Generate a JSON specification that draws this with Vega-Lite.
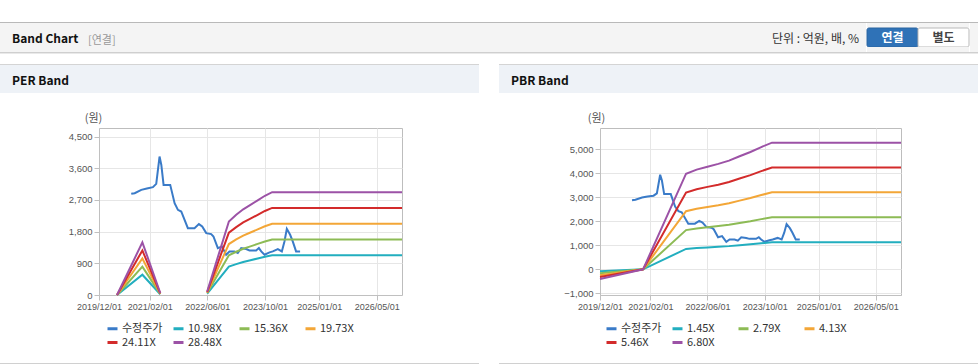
{
  "$schema": "https://vega.github.io/schema/vega-lite/v6.json",
  "padding": {"top": 22, "left": 0, "right": 0, "bottom": 0},
  "background": "#ffffff",
  "bounds": "full",
  "spacing": 0,
  "resolve": {"scale": {"color": "independent", "fill": "independent", "stroke": "independent"}, "legend": {"color": "independent"}},
  "config": {
    "view": {"stroke": null},
    "concat": {"spacing": 0},
    "axis": {"labelFont": "Liberation Sans", "labelFontSize": 9.5, "labelColor": "#555555", "domainColor": "#c0c0c0", "tickColor": "#c0c0c0", "gridColor": "#e6e6e6", "tickSize": 5, "labelOverlap": false, "labelFlush": false},
    "legend": {"labelFont": "Noto Sans CJK KR", "labelFontSize": 11, "labelColor": "#333333"}
  },
  "datasets": {
    "price": [
      {"date": "2020-08-29", "value": 2874}, {"date": "2020-09-27", "value": 2893}, {"date": "2020-11-22", "value": 2987},
      {"date": "2021-01-08", "value": 3025}, {"date": "2021-02-28", "value": 3063}, {"date": "2021-03-28", "value": 3158},
      {"date": "2021-04-25", "value": 3933}, {"date": "2021-05-10", "value": 3696}, {"date": "2021-05-29", "value": 3129},
      {"date": "2021-07-24", "value": 3129}, {"date": "2021-08-30", "value": 2609}, {"date": "2021-09-27", "value": 2420},
      {"date": "2021-10-25", "value": 2373}, {"date": "2021-12-20", "value": 1900}, {"date": "2022-02-14", "value": 1900},
      {"date": "2022-03-23", "value": 2014}, {"date": "2022-04-20", "value": 1948}, {"date": "2022-05-24", "value": 1758},
      {"date": "2022-07-05", "value": 1730}, {"date": "2022-07-24", "value": 1664}, {"date": "2022-08-30", "value": 1333},
      {"date": "2022-10-03", "value": 1380}, {"date": "2022-11-08", "value": 1144}, {"date": "2022-12-06", "value": 1238},
      {"date": "2023-01-17", "value": 1238}, {"date": "2023-02-14", "value": 1191}, {"date": "2023-03-15", "value": 1333},
      {"date": "2023-04-26", "value": 1305}, {"date": "2023-05-24", "value": 1267}, {"date": "2023-07-19", "value": 1267},
      {"date": "2023-08-11", "value": 1333}, {"date": "2023-08-31", "value": 1238}, {"date": "2023-09-28", "value": 1144},
      {"date": "2023-11-09", "value": 1210}, {"date": "2023-12-07", "value": 1238}, {"date": "2024-01-18", "value": 1305},
      {"date": "2024-02-21", "value": 1238}, {"date": "2024-03-14", "value": 1522}, {"date": "2024-04-03", "value": 1881},
      {"date": "2024-05-01", "value": 1711}, {"date": "2024-05-23", "value": 1522}, {"date": "2024-06-20", "value": 1238},
      {"date": "2024-07-24", "value": 1238}
    ],
    "perBand": [
      {"date": "2020-05-01", "series": "10.98X", "seg": 1, "value": 0}, {"date": "2020-05-01", "series": "15.36X", "seg": 1, "value": 0}, {"date": "2020-05-01", "series": "19.73X", "seg": 1, "value": 0}, {"date": "2020-05-01", "series": "24.11X", "seg": 1, "value": 0}, {"date": "2020-05-01", "series": "28.48X", "seg": 1, "value": 0},
      {"date": "2020-12-01", "series": "10.98X", "seg": 1, "value": 576}, {"date": "2020-12-01", "series": "15.36X", "seg": 1, "value": 806}, {"date": "2020-12-01", "series": "19.73X", "seg": 1, "value": 1036}, {"date": "2020-12-01", "series": "24.11X", "seg": 1, "value": 1266}, {"date": "2020-12-01", "series": "28.48X", "seg": 1, "value": 1495},
      {"date": "2021-05-01", "series": "10.98X", "seg": 1, "value": 22}, {"date": "2021-05-01", "series": "15.36X", "seg": 1, "value": 31}, {"date": "2021-05-01", "series": "19.73X", "seg": 1, "value": 39}, {"date": "2021-05-01", "series": "24.11X", "seg": 1, "value": 48}, {"date": "2021-05-01", "series": "28.48X", "seg": 1, "value": 57},
      {"date": "2022-06-01", "series": "10.98X", "seg": 2, "value": 38}, {"date": "2022-06-01", "series": "15.36X", "seg": 2, "value": 54}, {"date": "2022-06-01", "series": "19.73X", "seg": 2, "value": 69}, {"date": "2022-06-01", "series": "24.11X", "seg": 2, "value": 84}, {"date": "2022-06-01", "series": "28.48X", "seg": 2, "value": 100},
      {"date": "2022-12-01", "series": "10.98X", "seg": 2, "value": 806}, {"date": "2022-12-01", "series": "15.36X", "seg": 2, "value": 1127}, {"date": "2022-12-01", "series": "19.73X", "seg": 2, "value": 1448}, {"date": "2022-12-01", "series": "24.11X", "seg": 2, "value": 1770}, {"date": "2022-12-01", "series": "28.48X", "seg": 2, "value": 2090},
      {"date": "2023-02-01", "series": "10.98X", "seg": 2, "value": 878}, {"date": "2023-02-01", "series": "15.36X", "seg": 2, "value": 1229}, {"date": "2023-02-01", "series": "19.73X", "seg": 2, "value": 1578}, {"date": "2023-02-01", "series": "24.11X", "seg": 2, "value": 1929}, {"date": "2023-02-01", "series": "28.48X", "seg": 2, "value": 2278},
      {"date": "2023-04-01", "series": "10.98X", "seg": 2, "value": 939}, {"date": "2023-04-01", "series": "15.36X", "seg": 2, "value": 1313}, {"date": "2023-04-01", "series": "19.73X", "seg": 2, "value": 1687}, {"date": "2023-04-01", "series": "24.11X", "seg": 2, "value": 2061}, {"date": "2023-04-01", "series": "28.48X", "seg": 2, "value": 2435},
      {"date": "2023-06-01", "series": "10.98X", "seg": 2, "value": 988}, {"date": "2023-06-01", "series": "15.36X", "seg": 2, "value": 1382}, {"date": "2023-06-01", "series": "19.73X", "seg": 2, "value": 1776}, {"date": "2023-06-01", "series": "24.11X", "seg": 2, "value": 2170}, {"date": "2023-06-01", "series": "28.48X", "seg": 2, "value": 2563},
      {"date": "2023-08-01", "series": "10.98X", "seg": 2, "value": 1038}, {"date": "2023-08-01", "series": "15.36X", "seg": 2, "value": 1452}, {"date": "2023-08-01", "series": "19.73X", "seg": 2, "value": 1864}, {"date": "2023-08-01", "series": "24.11X", "seg": 2, "value": 2278}, {"date": "2023-08-01", "series": "28.48X", "seg": 2, "value": 2691},
      {"date": "2023-10-01", "series": "10.98X", "seg": 2, "value": 1087}, {"date": "2023-10-01", "series": "15.36X", "seg": 2, "value": 1521}, {"date": "2023-10-01", "series": "19.73X", "seg": 2, "value": 1953}, {"date": "2023-10-01", "series": "24.11X", "seg": 2, "value": 2387}, {"date": "2023-10-01", "series": "28.48X", "seg": 2, "value": 2820},
      {"date": "2023-12-01", "series": "10.98X", "seg": 2, "value": 1127}, {"date": "2023-12-01", "series": "15.36X", "seg": 2, "value": 1576}, {"date": "2023-12-01", "series": "19.73X", "seg": 2, "value": 2024}, {"date": "2023-12-01", "series": "24.11X", "seg": 2, "value": 2474}, {"date": "2023-12-01", "series": "28.48X", "seg": 2, "value": 2922},
      {"date": "2026-12-01", "series": "10.98X", "seg": 2, "value": 1127}, {"date": "2026-12-01", "series": "15.36X", "seg": 2, "value": 1576}, {"date": "2026-12-01", "series": "19.73X", "seg": 2, "value": 2024}, {"date": "2026-12-01", "series": "24.11X", "seg": 2, "value": 2474}, {"date": "2026-12-01", "series": "28.48X", "seg": 2, "value": 2922}
    ],
    "pbrBand": [
      {"date": "2019-12-01", "series": "1.45X", "value": -86}, {"date": "2019-12-01", "series": "2.79X", "value": -165}, {"date": "2019-12-01", "series": "4.13X", "value": -244}, {"date": "2019-12-01", "series": "5.46X", "value": -322}, {"date": "2019-12-01", "series": "6.80X", "value": -401},
      {"date": "2020-12-01", "series": "1.45X", "value": 0}, {"date": "2020-12-01", "series": "2.79X", "value": 0}, {"date": "2020-12-01", "series": "4.13X", "value": 0}, {"date": "2020-12-01", "series": "5.46X", "value": 0}, {"date": "2020-12-01", "series": "6.80X", "value": 0},
      {"date": "2021-12-01", "series": "1.45X", "value": 848}, {"date": "2021-12-01", "series": "2.79X", "value": 1632}, {"date": "2021-12-01", "series": "4.13X", "value": 2416}, {"date": "2021-12-01", "series": "5.46X", "value": 3194}, {"date": "2021-12-01", "series": "6.80X", "value": 3978},
      {"date": "2022-03-01", "series": "1.45X", "value": 885}, {"date": "2022-03-01", "series": "2.79X", "value": 1702}, {"date": "2022-03-01", "series": "4.13X", "value": 2519}, {"date": "2022-03-01", "series": "5.46X", "value": 3331}, {"date": "2022-03-01", "series": "6.80X", "value": 4148},
      {"date": "2022-06-01", "series": "1.45X", "value": 911}, {"date": "2022-06-01", "series": "2.79X", "value": 1752}, {"date": "2022-06-01", "series": "4.13X", "value": 2594}, {"date": "2022-06-01", "series": "5.46X", "value": 3429}, {"date": "2022-06-01", "series": "6.80X", "value": 4270},
      {"date": "2022-09-01", "series": "1.45X", "value": 935}, {"date": "2022-09-01", "series": "2.79X", "value": 1800}, {"date": "2022-09-01", "series": "4.13X", "value": 2664}, {"date": "2022-09-01", "series": "5.46X", "value": 3522}, {"date": "2022-09-01", "series": "6.80X", "value": 4386},
      {"date": "2022-12-01", "series": "1.45X", "value": 964}, {"date": "2022-12-01", "series": "2.79X", "value": 1855}, {"date": "2022-12-01", "series": "4.13X", "value": 2746}, {"date": "2022-12-01", "series": "5.46X", "value": 3631}, {"date": "2022-12-01", "series": "6.80X", "value": 4522},
      {"date": "2023-03-01", "series": "1.45X", "value": 1003}, {"date": "2023-03-01", "series": "2.79X", "value": 1931}, {"date": "2023-03-01", "series": "4.13X", "value": 2858}, {"date": "2023-03-01", "series": "5.46X", "value": 3778}, {"date": "2023-03-01", "series": "6.80X", "value": 4706},
      {"date": "2023-06-01", "series": "1.45X", "value": 1041}, {"date": "2023-06-01", "series": "2.79X", "value": 2003}, {"date": "2023-06-01", "series": "4.13X", "value": 2965}, {"date": "2023-06-01", "series": "5.46X", "value": 3920}, {"date": "2023-06-01", "series": "6.80X", "value": 4882},
      {"date": "2023-09-01", "series": "1.45X", "value": 1085}, {"date": "2023-09-01", "series": "2.79X", "value": 2087}, {"date": "2023-09-01", "series": "4.13X", "value": 3089}, {"date": "2023-09-01", "series": "5.46X", "value": 4084}, {"date": "2023-09-01", "series": "6.80X", "value": 5086},
      {"date": "2023-12-01", "series": "1.45X", "value": 1124}, {"date": "2023-12-01", "series": "2.79X", "value": 2162}, {"date": "2023-12-01", "series": "4.13X", "value": 3201}, {"date": "2023-12-01", "series": "5.46X", "value": 4232}, {"date": "2023-12-01", "series": "6.80X", "value": 5270},
      {"date": "2026-12-01", "series": "1.45X", "value": 1124}, {"date": "2026-12-01", "series": "2.79X", "value": 2162}, {"date": "2026-12-01", "series": "4.13X", "value": 3201}, {"date": "2026-12-01", "series": "5.46X", "value": 4232}, {"date": "2026-12-01", "series": "6.80X", "value": 5270}
    ]
  },
  "vconcat": [
    {"width": 978, "height": 1, "data": {"values": []}, "mark": "point", "view": {"fill": "#b9b9b9", "stroke": null}},
    {
      "hconcat": [
        {"width": 88, "height": 29, "data": {"values": []}, "mark": "point", "view": {"fill": "#f4f4f4", "stroke": null},
         "title": {"text": "Band Chart", "anchor": "start", "frame": "group", "orient": "top", "offset": -22.5, "dx": 12, "font": "Noto Sans CJK KR", "fontSize": 12, "fontWeight": "bold", "color": "#111111"}},
        {"width": 628, "height": 29, "data": {"values": []}, "mark": "point", "view": {"fill": "#f4f4f4", "stroke": null},
         "title": {"text": "[연결]", "anchor": "start", "frame": "group", "orient": "top", "offset": -22.5, "dx": 0, "font": "Noto Sans CJK KR", "fontSize": 11, "fontWeight": "normal", "color": "#999999"}},
        {"width": 150, "height": 29, "data": {"values": []}, "mark": "point", "view": {"fill": "#f4f4f4", "stroke": null},
         "title": {"text": "단위 : 억원, 배, %", "anchor": "end", "frame": "group", "orient": "top", "offset": -22.5, "dx": -7, "font": "Noto Sans CJK KR", "fontSize": 12, "fontWeight": "normal", "color": "#333333"}},
        {
          "vconcat": [
            {"width": 102, "height": 5, "data": {"values": []}, "mark": "point", "view": {"fill": "#f4f4f4", "stroke": null}},
            {
              "width": 102, "height": 19,
              "view": {"fill": "#f4f4f4", "stroke": null},
              "data": {"values": [{"b": "연결", "sel": "on"}, {"b": "별도", "sel": "off"}]},
              "encoding": {"x": {"field": "b", "type": "nominal", "sort": null, "scale": {"domain": ["연결", "별도"], "paddingInner": 0, "paddingOuter": 0}, "axis": null}},
              "layer": [
                {"mark": {"type": "rect", "cornerRadius": 2, "strokeWidth": 1},
                 "encoding": {
                   "fill": {"field": "sel", "type": "nominal", "scale": {"domain": ["on", "off"], "range": ["#2f72b7", "#ffffff"]}, "legend": null},
                   "stroke": {"field": "sel", "type": "nominal", "scale": {"domain": ["on", "off"], "range": ["#2a64a0", "#b9b9b9"]}, "legend": null}}},
                {"mark": {"type": "text", "font": "Noto Sans CJK KR", "fontSize": 12, "fontWeight": "bold"},
                 "encoding": {"text": {"field": "b"}, "color": {"field": "sel", "type": "nominal", "scale": {"domain": ["on", "off"], "range": ["#ffffff", "#444444"]}, "legend": null}}}
              ]
            },
            {"width": 102, "height": 5, "data": {"values": []}, "mark": "point", "view": {"fill": "#f4f4f4", "stroke": null}}
          ],
          "spacing": 0, "bounds": "flush"
        },
        {"width": 10, "height": 29, "data": {"values": []}, "mark": "point", "view": {"fill": "#f4f4f4", "stroke": null}}
      ],
      "spacing": 0, "bounds": "full",
      "resolve": {"scale": {"color": "independent", "fill": "independent", "stroke": "independent"}}
    },
    {"width": 978, "height": 1, "data": {"values": []}, "mark": "point", "view": {"fill": "#cfcfcf", "stroke": null}},
    {"width": 978, "height": 1, "data": {"values": []}, "mark": "point", "view": {"fill": "#e9e9e9", "stroke": null}},
    {"width": 978, "height": 10, "data": {"values": []}, "mark": "point", "view": {"fill": null, "stroke": null}},
    {
      "hconcat": [
        {"vconcat": [
          {"width": 479, "height": 1, "data": {"values": []}, "mark": "point", "view": {"fill": "#d4d4d4", "stroke": null}},
          {"width": 479, "height": 28, "data": {"values": []}, "mark": "point", "view": {"fill": "#eef2f7", "stroke": null},
           "title": {"text": "PER Band", "anchor": "start", "frame": "group", "orient": "top", "offset": -23, "dx": 12, "font": "Noto Sans CJK KR", "fontSize": 12, "fontWeight": "bold", "color": "#111111"}}
        ], "spacing": 0, "bounds": "flush"},
        {"width": 20, "height": 29, "data": {"values": []}, "mark": "point", "view": {"fill": null, "stroke": null}},
        {"vconcat": [
          {"width": 479, "height": 1, "data": {"values": []}, "mark": "point", "view": {"fill": "#d4d4d4", "stroke": null}},
          {"width": 479, "height": 28, "data": {"values": []}, "mark": "point", "view": {"fill": "#eef2f7", "stroke": null},
           "title": {"text": "PBR Band", "anchor": "start", "frame": "group", "orient": "top", "offset": -23, "dx": 12, "font": "Noto Sans CJK KR", "fontSize": 12, "fontWeight": "bold", "color": "#111111"}}
        ], "spacing": 0, "bounds": "flush"}
      ],
      "spacing": 0, "bounds": "full"
    },
    {"width": 978, "height": 18, "data": {"values": []}, "mark": "point", "view": {"fill": null, "stroke": null}},
    {
      "hconcat": [
        {"width": 99, "height": 167, "data": {"values": []}, "mark": "point", "view": {"fill": null, "stroke": null}},
        {
          "width": 303, "height": 167,
          "view": {"stroke": "#bdbdbd", "fill": "#ffffff"},
          "layer": [
            {"data": {"name": "price"}, "mark": {"type": "line", "strokeWidth": 2},
             "encoding": {
               "x": {"field": "date", "type": "temporal",
                     "scale": {"domain": [{"year": 2019, "month": 12, "date": 1}, {"year": 2026, "month": 12, "date": 1}]},
                     "axis": {"values": [{"year": 2019, "month": 12, "date": 1}, {"year": 2021, "month": 2, "date": 1}, {"year": 2022, "month": 6, "date": 1}, {"year": 2023, "month": 10, "date": 1}, {"year": 2025, "month": 1, "date": 1}, {"year": 2026, "month": 5, "date": 1}],
                              "tickCount": 12, "format": "%Y/%m/%d", "title": null, "grid": true, "labelPadding": 2, "labelFontSize": 9, "labelOverlap": false, "labelFlush": false}},
               "y": {"field": "value", "type": "quantitative",
                     "scale": {"domain": [0, 4745], "nice": false, "zero": false},
                     "axis": {"values": [0, 900, 1800, 2700, 3600, 4500], "tickCount": 12, "format": ",.0f", "grid": true, "labelOverlap": false, "labelFlush": false, "title": "(원)", "titleAngle": 0, "titleX": -6, "titleY": -7, "titleAlign": "center", "titleBaseline": "alphabetic", "titleFont": "Noto Sans CJK KR", "titleFontSize": 11, "titleFontWeight": "normal", "titleColor": "#555555"}},
               "color": {"datum": "수정주가", "type": "nominal",
                         "scale": {"domain": ["수정주가", "10.98X", "15.36X", "19.73X", "24.11X", "28.48X"], "range": ["#3a7bc8", "#22aebf", "#8dbb55", "#f3a637", "#d32b2b", "#9c52a6"]},
                         "legend": {"title": null, "orient": "none", "legendX": 7, "legendY": 194, "direction": "horizontal", "columns": 4, "gridAlign": "all", "columnPadding": 4, "rowPadding": 1, "padding": 0, "symbolType": "stroke", "symbolSize": 100, "symbolStrokeWidth": 3, "labelOffset": 3}}
             }},
            {"data": {"name": "perBand"}, "mark": {"type": "line", "strokeWidth": 2},
             "encoding": {
               "x": {"field": "date", "type": "temporal"},
               "y": {"field": "value", "type": "quantitative"},
               "color": {"field": "series", "type": "nominal",
                         "legend": {"title": null, "orient": "none", "legendX": 7, "legendY": 194, "direction": "horizontal", "columns": 4, "gridAlign": "all", "columnPadding": 4, "rowPadding": 1, "padding": 0, "symbolType": "stroke", "symbolSize": 100, "symbolStrokeWidth": 3, "labelOffset": 3}},
               "detail": {"field": "seg", "type": "nominal"}
             }}
          ]
        },
        {"width": 198, "height": 167, "data": {"values": []}, "mark": "point", "view": {"fill": null, "stroke": null}},
        {
          "width": 301, "height": 167,
          "view": {"stroke": "#bdbdbd", "fill": "#ffffff"},
          "layer": [
            {"data": {"name": "price"}, "mark": {"type": "line", "strokeWidth": 2},
             "encoding": {
               "x": {"field": "date", "type": "temporal",
                     "scale": {"domain": [{"year": 2019, "month": 12, "date": 1}, {"year": 2026, "month": 12, "date": 1}]},
                     "axis": {"values": [{"year": 2019, "month": 12, "date": 1}, {"year": 2021, "month": 2, "date": 1}, {"year": 2022, "month": 6, "date": 1}, {"year": 2023, "month": 10, "date": 1}, {"year": 2025, "month": 1, "date": 1}, {"year": 2026, "month": 5, "date": 1}],
                              "tickCount": 12, "format": "%Y/%m/%d", "title": null, "grid": true, "labelPadding": 2, "labelFontSize": 9, "labelOverlap": false, "labelFlush": false}},
               "y": {"field": "value", "type": "quantitative",
                     "scale": {"domain": [-1070, 5880], "nice": false, "zero": false},
                     "axis": {"values": [-1000, 0, 1000, 2000, 3000, 4000, 5000], "tickCount": 12, "format": ",.0f", "grid": true, "labelOverlap": false, "labelFlush": false, "title": "(원)", "titleAngle": 0, "titleX": -4, "titleY": -7, "titleAlign": "center", "titleBaseline": "alphabetic", "titleFont": "Noto Sans CJK KR", "titleFontSize": 11, "titleFontWeight": "normal", "titleColor": "#555555"}},
               "color": {"datum": "수정주가", "type": "nominal",
                         "scale": {"domain": ["수정주가", "1.45X", "2.79X", "4.13X", "5.46X", "6.80X"], "range": ["#3a7bc8", "#22aebf", "#8dbb55", "#f3a637", "#d32b2b", "#9c52a6"]},
                         "legend": {"title": null, "orient": "none", "legendX": 5, "legendY": 194, "direction": "horizontal", "columns": 4, "gridAlign": "all", "columnPadding": 4, "rowPadding": 1, "padding": 0, "symbolType": "stroke", "symbolSize": 100, "symbolStrokeWidth": 3, "labelOffset": 3}}
             }},
            {"data": {"name": "pbrBand"}, "mark": {"type": "line", "strokeWidth": 2},
             "encoding": {
               "x": {"field": "date", "type": "temporal"},
               "y": {"field": "value", "type": "quantitative"},
               "color": {"field": "series", "type": "nominal",
                         "legend": {"title": null, "orient": "none", "legendX": 5, "legendY": 194, "direction": "horizontal", "columns": 4, "gridAlign": "all", "columnPadding": 4, "rowPadding": 1, "padding": 0, "symbolType": "stroke", "symbolSize": 100, "symbolStrokeWidth": 3, "labelOffset": 3}}
             }}
          ]
        }
      ],
      "spacing": 0, "bounds": "flush",
      "resolve": {"scale": {"color": "independent"}, "legend": {"color": "independent"}}
    },
    {"width": 978, "height": 13, "data": {"values": []}, "mark": "point", "view": {"fill": null, "stroke": null}},
    {
      "hconcat": [
        {"width": 479, "height": 1, "data": {"values": []}, "mark": "point", "view": {"fill": "#d0d0d0", "stroke": null}},
        {"width": 20, "height": 1, "data": {"values": []}, "mark": "point", "view": {"fill": null, "stroke": null}},
        {"width": 479, "height": 1, "data": {"values": []}, "mark": "point", "view": {"fill": "#d0d0d0", "stroke": null}}
      ],
      "spacing": 0, "bounds": "flush"
    }
  ]
}
